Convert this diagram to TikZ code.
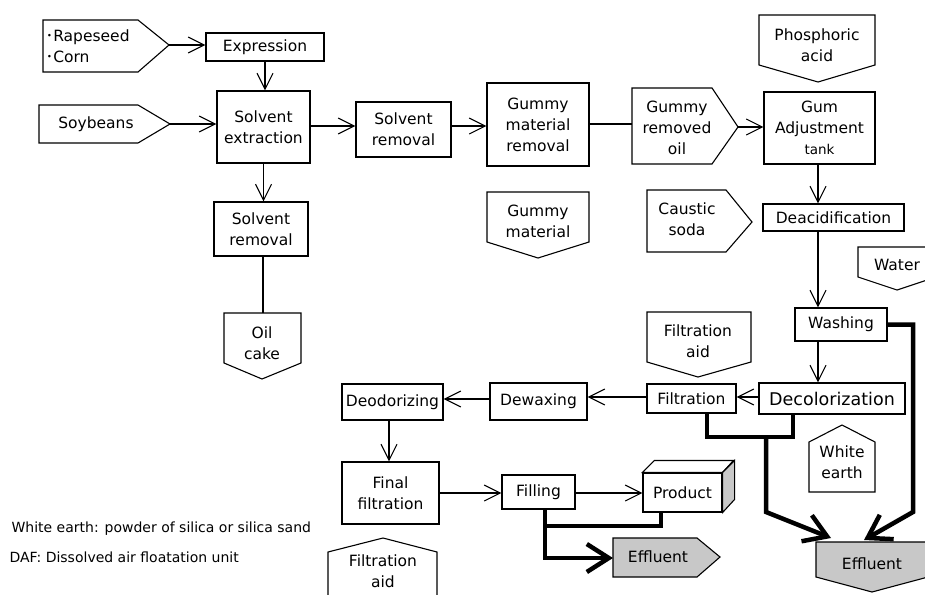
\documentclass[tikz,border=0pt]{standalone}
\usepackage{fontspec}
\setmainfont{DejaVu Sans}
\newfontfamily\cjkfont{Noto Sans CJK JP}
\usetikzlibrary{arrows.meta}
\definecolor{effgray}{RGB}{200,200,200}
\begin{document}
\begin{tikzpicture}[x=1pt,y=-1pt,
  line width=1.1pt,
  every node/.style={inner sep=0pt, align=center, font=\fontsize{15.5}{21}\selectfont},
  box/.style={draw, rectangle, fill=white},
  tag/.style={draw, line join=miter},
  arr/.style={-{Straight Barb[length=16pt,width=16pt]}},
  drain/.style={line width=4.5pt},
  drainarr/.style={drain, -{Straight Barb[length=22pt,width=28pt]}}]
\clip (0,0) rectangle (925,594);

% ---- process boxes ----
\node[box, minimum width=118pt, minimum height=28pt] (expr) at (265,47) {Expression};
\node[box, minimum width=93pt, minimum height=72pt] (solext) at (263.5,127) {Solvent\\extraction};
\node[box, minimum width=95pt, minimum height=55pt] (solrem) at (403.5,129.5) {Solvent\\removal};
\node[box, minimum width=102pt, minimum height=83pt] (gumrem) at (538,124.5) {Gummy\\material\\removal};
\node[box, minimum width=111pt, minimum height=72pt] (gumadj) at (819.5,128) {Gum\\Adjustment\\{\fontsize{13.5}{14}\selectfont tank}};
\node[box, minimum width=141pt, minimum height=27pt] (deacid) at (833.5,217.5) {Deacidification};
\node[box, minimum width=92pt, minimum height=33pt] (wash) at (841,324.5) {Washing};
\node[box, minimum width=146pt, minimum height=31pt, font=\fontsize{17.5}{21}\selectfont] (decol) at (832,398.5) {Decolorization};
\node[box, minimum width=89pt, minimum height=29pt] (filt) at (691.5,398.5) {Filtration};
\node[box, minimum width=97pt, minimum height=37pt] (dewax) at (538.5,401.5) {Dewaxing};
\node[box, minimum width=101pt, minimum height=36pt] (deodor) at (392.5,402) {Deodorizing};
\node[box, minimum width=97pt, minimum height=62pt] (finfilt) at (390.5,493) {Final\\filtration};
\node[box, minimum width=73pt, minimum height=34pt] (fill) at (538.5,492) {Filling};
\node[box, minimum width=79pt, minimum height=39pt] (prod) at (682.5,492.5) {Product};
\node[box, minimum width=94pt, minimum height=54pt] (solrem2) at (261,229) {Solvent\\removal};

% product drawn as a block
\draw[fill=white] (prod.north west) -- ++(12,-12) -- ++(79,0) -- (prod.north east) -- cycle;
\draw[fill=effgray] (prod.north east) -- ++(12,-12) -- ++(0,39) -- (prod.south east) -- cycle;

% ---- feed / by-product tags ----
\draw[tag] (43,20) -- (138,20) -- (169,45) -- (138,72) -- (43,72) -- cycle;
\coordinate (rapetip) at (169,45);
\node[anchor=west, align=left] (rape) at (45,46.5) {{\cjkfont ･}Rapeseed\\{\cjkfont ･}Corn};

\draw[tag] (39,105) -- (138,105) -- (170,124) -- (138,143) -- (39,143) -- cycle;
\coordinate (soytip) at (170,124);
\node (soy) at (96,124) {Soybeans};

\draw[tag] (632,88) -- (712,88) -- (738,127) -- (712,164) -- (632,164) -- cycle;
\coordinate (gumoilW) at (632,124);
\coordinate (gumoiltip) at (738,127);
\node (gumoil) at (677,128) {Gummy\\removed\\oil};

\draw[tag] (759,15) -- (875,15) -- (875,65) -- (818,82) -- (759,65) -- cycle;
\node (phos) at (817,45.5) {Phosphoric\\acid};

\draw[tag] (487,192) -- (589,192) -- (589,242) -- (538,258) -- (487,242) -- cycle;
\node (gummat) at (538,221.5) {Gummy\\material};

\draw[tag] (647,190) -- (726,190) -- (752,222) -- (726,252) -- (647,252) -- cycle;
\node (caustic) at (687,219) {Caustic\\soda};

\draw[tag] (858,247) -- (936,247) -- (936,277) -- (897,290) -- (858,277) -- cycle;
\node (water) at (897,265) {Water};

\draw[tag] (647,312) -- (751,312) -- (751,362) -- (698,377) -- (647,362) -- cycle;
\node (filtaid) at (698,341) {Filtration\\aid};

\draw[tag] (224,313) -- (301,313) -- (301,363) -- (262,379) -- (224,363) -- cycle;
\coordinate (oilcakeN) at (263,313);
\node (oilcake) at (262,343) {Oil\\cake};

\draw[tag] (809,492) -- (809,442) -- (842,425) -- (875,442) -- (875,492) -- cycle;
\node (wearth) at (842,462.5) {White\\earth};

\draw[tag] (328,600) -- (328,552) -- (383,538) -- (437,552) -- (437,600);
\node (filtaid2) at (383,571) {Filtration\\aid};

\draw[tag, fill=effgray] (613,538) -- (697,538) -- (720,557) -- (697,577) -- (613,577) -- cycle;
\coordinate (eff1W) at (613,558);
\node (eff1) at (658,557) {Effluent};

\draw[tag, fill=effgray] (816,542) -- (928,542) -- (928,577) -- (872,592) -- (816,577) -- cycle;
\coordinate (eff2inA) at (831,538);
\coordinate (eff2inB) at (864,540);
\node (eff2) at (872,564) {Effluent};

% ---- notes ----
\node[anchor=west, font=\fontsize{14}{16}\selectfont] (note1) at (11,529) {White earth: powder of silica or silica sand};
\node[anchor=west, font=\fontsize{14}{16}\selectfont] (note2) at (9,557) {DAF: Dissolved air floatation unit};

% ---- oil flow ----
\coordinate (row1) at (0,126);
\coordinate (col) at (818,0);
\coordinate (row3) at (0,397);
\coordinate (row3b) at (0,399);
\coordinate (col2) at (389,0);
\coordinate (row4) at (0,493);
\draw[arr] (rapetip) -- (rapetip -| expr.west);
\draw[arr] (expr.south) -- (expr.south |- solext.north);
\draw[arr] (soytip) -- (soytip -| solext.west);
\draw[arr] (solext.east |- row1) -- (solrem.west |- row1);
\draw[arr] (solrem.east |- row1) -- (gumrem.west |- row1);
\draw (gumrem.east |- gumoilW) -- (gumoilW);
\draw[arr] (gumoiltip) -- (gumoiltip -| gumadj.west);
\draw[arr] (gumadj.south -| col) -- (deacid.north -| col);
\draw[arr] (deacid.south -| col) -- (wash.north -| col);
\draw[arr] (wash.south -| col) -- (decol.north -| col);
\draw[arr] (decol.west |- row3) -- (filt.east |- row3);
\draw[arr] (filt.west |- row3) -- (dewax.east |- row3);
\draw[arr] (dewax.west |- row3b) -- (deodor.east |- row3b);
\draw[arr] (deodor.south -| col2) -- (finfilt.north -| col2);
\draw[arr] (finfilt.east |- row4) -- (fill.west |- row4);
\draw[arr] (fill.east |- row4) -- (prod.west |- row4);
\draw[arr] (solext.south) -- (solext.south |- solrem2.north);
\draw (solrem2.south -| oilcakeN) -- (oilcakeN);

% ---- effluent lines ----
\coordinate (fillout) at (545,0);
\coordinate (prodout) at (661,0);
\coordinate (j1) at (545,526);
\coordinate (filtout) at (707,0);
\coordinate (decolout) at (793,0);
\coordinate (j2) at (766,437);
\coordinate (j2b) at (766,512);
\coordinate (wbend) at (913,512);
\draw[drainarr] (fill.south -| fillout) |- (eff1W);
\draw[drain] (prod.south -| prodout) |- (j1);
\draw[drain] (filt.south -| filtout) |- (j2) -| (decol.south -| decolout);
\draw[drainarr] (j2) -- (j2b) -- (eff2inA);
\draw[drainarr] (wash.east) -| (wbend) -- (eff2inB);
\end{tikzpicture}
\end{document}
